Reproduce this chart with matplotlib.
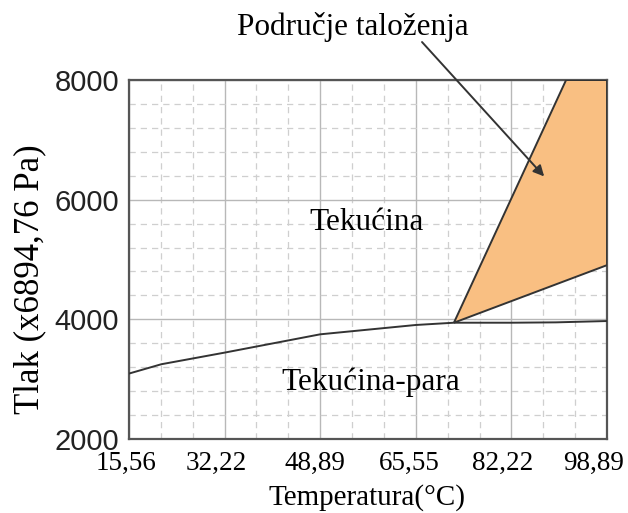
import numpy as np
import matplotlib
matplotlib.use('Agg')
import matplotlib.pyplot as plt
import matplotlib.transforms as mtransforms
from matplotlib.ticker import FixedLocator

# Data
###############################################################################

x_ticks = [15.56, 32.22, 48.89, 65.55, 82.22, 98.89]
x_ticklabels = ['15,56', '32,22', '48,89', '65,55', '82,22', '98,89']
y_ticks = [2000, 4000, 6000, 8000]

# liquid-vapour boundary
boundary_t = [15.56, 21.2, 32.22, 48.89, 65.55, 72.2, 82.22, 90.0, 98.89]
boundary_p = [3094, 3250, 3444, 3750, 3906, 3944, 3944, 3950, 3972]

# deposition region (Područje taloženja)
region_t = [72.2, 91.75, 98.89, 98.89]
region_p = [3944, 8000, 8000, 4906]

# Plot
###############################################################################

serif = 'Liberation Serif'
sans = 'Liberation Sans'

fig = plt.figure(figsize=(6.28, 5.13), dpi=100)
ax = fig.add_axes([0.2054, 0.1442, 0.7612, 0.6998])

ax.fill(region_t, region_p, facecolor='#F9BF82', edgecolor='#333333',
        linewidth=1.4, zorder=3)
ax.plot(boundary_t, boundary_p, color='#333333', linewidth=1.4, zorder=4)

ax.set_xlim(x_ticks[0], x_ticks[-1])
ax.set_ylim(2000, 8000)

ax.set_xticks(x_ticks)
ax.set_xticklabels([])
ax.set_yticks(y_ticks)
ax.set_yticklabels([str(v) for v in y_ticks], fontfamily=sans, fontsize=21,
                   color='#222222')

# x labels drawn by hand: they sit a little left of their ticks (px nudges)
nudge = [-3, -8, -5, -6, -9, -13]
for t, lab, dx in zip(x_ticks, x_ticklabels, nudge):
    shift = mtransforms.ScaledTranslation(dx / 100, -12 / 100,
                                          fig.dpi_scale_trans)
    ax.text(t, 0, lab, transform=ax.get_xaxis_transform() + shift,
            fontfamily=serif, fontsize=19.5, ha='center', va='top',
            clip_on=False)

x_minor = []
for a, b in zip(x_ticks[:-1], x_ticks[1:]):
    x_minor += [a + (b - a) / 3, a + 2 * (b - a) / 3]
ax.xaxis.set_minor_locator(FixedLocator(x_minor))
ax.yaxis.set_minor_locator(FixedLocator(np.arange(2400, 8000, 400)))

ax.tick_params(which='both', length=0)
ax.tick_params(axis='y', pad=7)

ax.grid(which='major', color='#b8b8b8', linewidth=1.0, zorder=0)
ax.grid(which='minor', color='#cfcfcf', linewidth=0.9, linestyle=(0, (5, 4)),
        zorder=0)
ax.set_axisbelow(True)

for spine in ax.spines.values():
    spine.set_color('#555555')
    spine.set_linewidth(1.6)

ax.set_xlabel('Temperatura(°C)', fontfamily=serif, fontsize=21, va='top')
ax.xaxis.set_label_coords(0.498, -0.125)
ax.set_ylabel('Tlak (x6894,76 Pa)', fontfamily=serif, fontsize=25)
ax.yaxis.set_label_coords(-0.174, 0.446)

ax.text(56.94, 5611, 'Tekućina', fontfamily=serif, fontsize=22.5,
        ha='center', va='center', zorder=5)
ax.text(57.74, 2944, 'Tekućina-para', fontfamily=serif, fontsize=22.5,
        ha='center', va='center', zorder=5)

ax.text(54.6, 8886, 'Područje taloženja', fontfamily=serif, fontsize=22.5,
        ha='center', va='center', clip_on=False)
ax.annotate('', xy=(87.93, 6389), xytext=(66.64, 8635),
            arrowprops=dict(arrowstyle='-|>', color='#333333', lw=1.4,
                            mutation_scale=16, shrinkA=0, shrinkB=0),
            annotation_clip=False, zorder=6)

fig.savefig('out.png', dpi=100)
